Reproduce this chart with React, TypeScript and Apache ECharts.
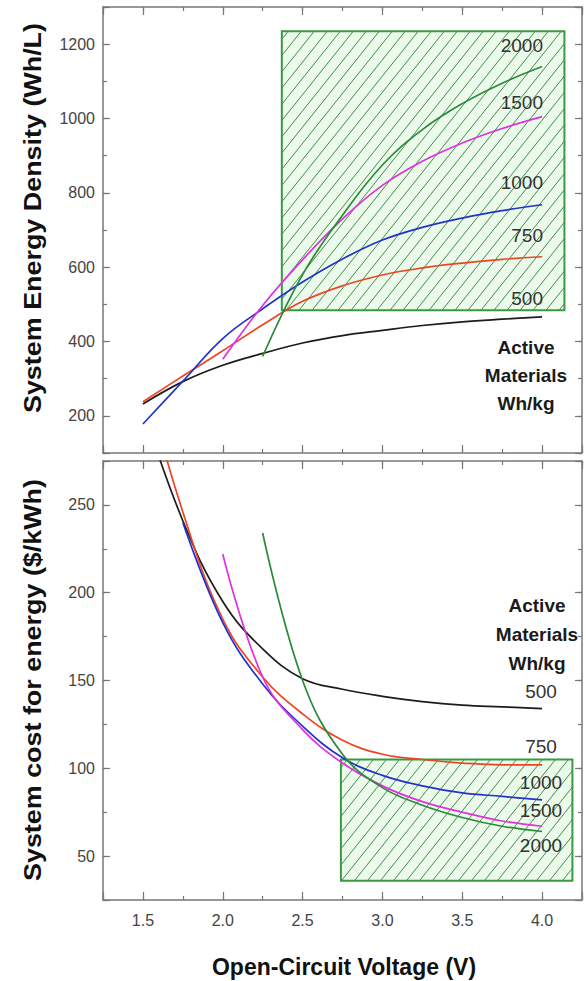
import React, { useEffect, useRef } from "react";
import * as echarts from "echarts";

// ---------- data ----------
const V_STD = [1.5, 1.75, 2.0, 2.25, 2.5, 2.75, 3.0, 3.25, 3.5, 3.75, 4.0];
const V_1000_COST = [1.75, 2.0, 2.25, 2.5, 2.75, 3.0, 3.25, 3.5, 3.75, 4.0];
const V_1500 = [2.0, 2.25, 2.5, 2.75, 3.0, 3.25, 3.5, 3.75, 4.0];
const V_2000 = [2.25, 2.5, 2.75, 3.0, 3.25, 3.5, 3.75, 4.0];

// System energy density (Wh/L)
const density500 = [232, 292, 336, 368, 396, 416, 430, 443, 453, 460, 466];
const density750 = [238, 307, 375, 445, 508, 550, 579, 598, 611, 621, 628];
const density1000 = [178, 293, 408, 488, 560, 622, 673, 707, 732, 752, 768];
const density1500 = [352, 497, 620, 730, 820, 885, 934, 973, 1005];
const density2000 = [360, 580, 740, 875, 970, 1040, 1095, 1140];

// System cost for energy ($/kWh)
const cost500 = [305, 241, 195, 168, 151, 145, 141, 138, 136, 135, 134];
const cost750 = [325, 246, 185, 152, 131, 116, 108, 105, 103, 102, 102];
const cost1000 = [240, 183, 148, 124, 106, 96, 90, 86, 84, 82];
const cost1500 = [222, 152, 122, 103, 90, 81, 75, 70, 67];
const cost2000 = [234, 150, 108, 89, 79, 72, 67, 64];

// target regions [xMin, xMax, yMin, yMax]
const densityTarget = [2.37, 4.14, 484, 1235];
const costTarget = [2.74, 4.19, 36, 105];

const materialLabels = ["500", "750", "1000", "1500", "2000"];
const seriesColors = ["#1c1c1c", "#ee4422", "#2233cc", "#e030e0", "#2a8a3a"];

const pairs = (xs: number[], ys: number[]) => xs.map((x, i) => [x, ys[i]]);

const FONT = '"Liberation Sans", Arial, Helvetica, sans-serif';

export default function App() {
  const ref = useRef<HTMLDivElement>(null);

  useEffect(() => {
    document.body.style.margin = "0";
    const chart = echarts.init(ref.current!, null, { renderer: "svg" });

    const hatchRender = (params: any, api: any) => {
      const x0 = api.value(0), x1 = api.value(1), y0 = api.value(2), y1 = api.value(3);
      const tl = api.coord([x0, y1]);
      const br = api.coord([x1, y0]);
      const L = tl[0], T = tl[1], R = br[0], B = br[1];
      const h = B - T;
      const k = 0.8;
      const gap = 13;
      const children: any[] = [
        {
          type: "rect",
          shape: { x: L, y: T, width: R - L, height: h },
          style: { fill: "rgba(200,240,200,0.35)", stroke: "none" },
        },
      ];
      for (let c = L - k * h + gap * 0.5; c < R; c += gap) {
        let xa = c, ya = B, xb = c + k * h, yb = T;
        if (xa < L) { ya = B - (L - c) / k; xa = L; }
        if (xb > R) { yb = B - (R - c) / k; xb = R; }
        if (xa >= xb) continue;
        children.push({
          type: "line",
          shape: { x1: xa, y1: ya, x2: xb, y2: yb },
          style: { stroke: "#3f8f46", lineWidth: 1 },
        });
      }
      children.push({
        type: "rect",
        shape: { x: L, y: T, width: R - L, height: h },
        style: { fill: "none", stroke: "#3a9a44", lineWidth: 2 },
      });
      return { type: "group", children };
    };

    const axisLineStyle = { show: true, onZero: false, lineStyle: { color: "#777", width: 1.5 } };
    const xFmt = (v: number) => (Math.abs(v * 2 - Math.round(v * 2)) < 1e-6 ? v.toFixed(1) : "");

    const makeX = (grid: number, position: string, major: boolean, labels: boolean) => ({
      type: "value",
      gridIndex: grid,
      position,
      min: 1.25,
      max: 4.25,
      ...(major ? { splitNumber: 6 } : { interval: 0.25 }),
      axisLine: major ? axisLineStyle : { show: false },
      axisTick: { show: true, inside: true, length: major ? 8 : 4, lineStyle: { color: "#777", width: 1.2 } },
      axisLabel: labels
        ? { show: true, formatter: xFmt, margin: 12, fontSize: 16, color: "#444", fontFamily: FONT }
        : { show: false },
      splitLine: { show: false },
    });

    const makeY = (grid: number, position: string, major: boolean, labels: boolean, min: number, max: number, minorInt: number, majorSplit: number, step: number) => ({
      type: "value",
      gridIndex: grid,
      position,
      min,
      max,
      ...(major ? { splitNumber: majorSplit } : { interval: minorInt }),
      axisLine: major ? axisLineStyle : { show: false },
      axisTick: { show: true, inside: true, length: major ? 7 : 4, lineStyle: { color: "#777", width: 1.2 } },
      axisLabel: labels
        ? {
            show: true,
            formatter: (v: number) => (v % step === 0 ? String(v) : ""),
            margin: 8,
            fontSize: 16,
            color: "#444",
            fontFamily: FONT,
          }
        : { show: false },
      splitLine: { show: false },
    });

    const lineSeries = (name: string, data: number[][], color: string, xi: number, yi: number) => ({
      type: "line",
      name,
      data,
      xAxisIndex: xi,
      yAxisIndex: yi,
      showSymbol: false,
      symbol: "none",
      smooth: 0.4,
      clip: true,
      lineStyle: { color, width: 1.7 },
      z: 3,
    });

    const topLabelY = [298, 235, 182, 102, 45];
    const botLabelY = [691, 746, 782, 810, 845];

    const graphics: any[] = [
      {
        type: "text",
        x: 33,
        y: 218,
        rotation: Math.PI / 2,
        scaleX: 1.17,
        style: {
          text: "System Energy Density (Wh/L)",
          font: `bold 23px ${FONT}`,
          fill: "#111",
          align: "center",
          verticalAlign: "middle",
        },
      },
      {
        type: "text",
        x: 33,
        y: 680,
        rotation: Math.PI / 2,
        scaleX: 1.17,
        style: {
          text: "System cost for energy ($/kWh)",
          font: `bold 23px ${FONT}`,
          fill: "#111",
          align: "center",
          verticalAlign: "middle",
        },
      },
      {
        type: "text",
        x: 344,
        y: 967,
        style: {
          text: "Open-Circuit Voltage (V)",
          font: `bold 23px ${FONT}`,
          fill: "#111",
          align: "center",
          verticalAlign: "middle",
        },
      },
      {
        type: "text",
        x: 526,
        y: 375,
        style: {
          text: "Active\nMaterials\nWh/kg",
          font: `bold 19px ${FONT}`,
          lineHeight: 28,
          fill: "#1a1a1a",
          align: "center",
          verticalAlign: "middle",
        },
      },
      {
        type: "text",
        x: 537,
        y: 634,
        style: {
          text: "Active\nMaterials\nWh/kg",
          font: `bold 19px ${FONT}`,
          lineHeight: 29,
          fill: "#1a1a1a",
          align: "center",
          verticalAlign: "middle",
        },
      },
    ];
    materialLabels.forEach((t, i) => {
      graphics.push({
        type: "text",
        x: 543,
        y: topLabelY[i],
        style: { text: t, font: `19px ${FONT}`, fill: "#333", align: "right", verticalAlign: "middle" },
        z: 10,
      });
      graphics.push({
        type: "text",
        x: 541,
        y: botLabelY[i],
        style: { text: t, font: `19px ${FONT}`, fill: "#333", align: "center", verticalAlign: "middle" },
        z: 10,
      });
    });

    chart.setOption({
      animation: false,
      backgroundColor: "#fff",
      grid: [
        { left: 103, top: 7, width: 479, height: 446, containLabel: false },
        { left: 103, top: 461, width: 479, height: 439, containLabel: false },
      ],
      xAxis: [
        makeX(0, "bottom", true, false),
        makeX(0, "bottom", false, false),
        makeX(0, "top", true, false),
        makeX(0, "top", false, false),
        makeX(1, "bottom", true, true),
        makeX(1, "bottom", false, false),
        makeX(1, "top", true, false),
        makeX(1, "top", false, false),
      ],
      yAxis: [
        makeY(0, "left", true, true, 100, 1300, 100, 6, 200),
        makeY(0, "left", false, false, 100, 1300, 100, 6, 200),
        makeY(0, "right", true, false, 100, 1300, 100, 6, 200),
        makeY(0, "right", false, false, 100, 1300, 100, 6, 200),
        makeY(1, "left", true, true, 25, 275, 25, 5, 50),
        makeY(1, "left", false, false, 25, 275, 25, 5, 50),
        makeY(1, "right", true, false, 25, 275, 25, 5, 50),
        makeY(1, "right", false, false, 25, 275, 25, 5, 50),
      ],
      series: [
        {
          type: "custom",
          xAxisIndex: 0,
          yAxisIndex: 0,
          renderItem: hatchRender,
          data: [densityTarget],
          encode: { x: [0, 1], y: [2, 3] },
          z: 1,
          silent: true,
        },
        {
          type: "custom",
          xAxisIndex: 4,
          yAxisIndex: 4,
          renderItem: hatchRender,
          data: [costTarget],
          encode: { x: [0, 1], y: [2, 3] },
          z: 1,
          silent: true,
        },
        lineSeries("500", pairs(V_STD, density500), seriesColors[0], 0, 0),
        lineSeries("750", pairs(V_STD, density750), seriesColors[1], 0, 0),
        lineSeries("1000", pairs(V_STD, density1000), seriesColors[2], 0, 0),
        lineSeries("1500", pairs(V_1500, density1500), seriesColors[3], 0, 0),
        lineSeries("2000", pairs(V_2000, density2000), seriesColors[4], 0, 0),
        lineSeries("500", pairs(V_STD, cost500), seriesColors[0], 4, 4),
        lineSeries("750", pairs(V_STD, cost750), seriesColors[1], 4, 4),
        lineSeries("1000", pairs(V_1000_COST, cost1000), seriesColors[2], 4, 4),
        lineSeries("1500", pairs(V_1500, cost1500), seriesColors[3], 4, 4),
        lineSeries("2000", pairs(V_2000, cost2000), seriesColors[4], 4, 4),
      ],
      graphic: graphics,
    });

    return () => chart.dispose();
  }, []);

  return (
    <div
      ref={ref}
      style={{ position: "absolute", left: 0, top: 0, width: 586, height: 981 }}
    />
  );
}
